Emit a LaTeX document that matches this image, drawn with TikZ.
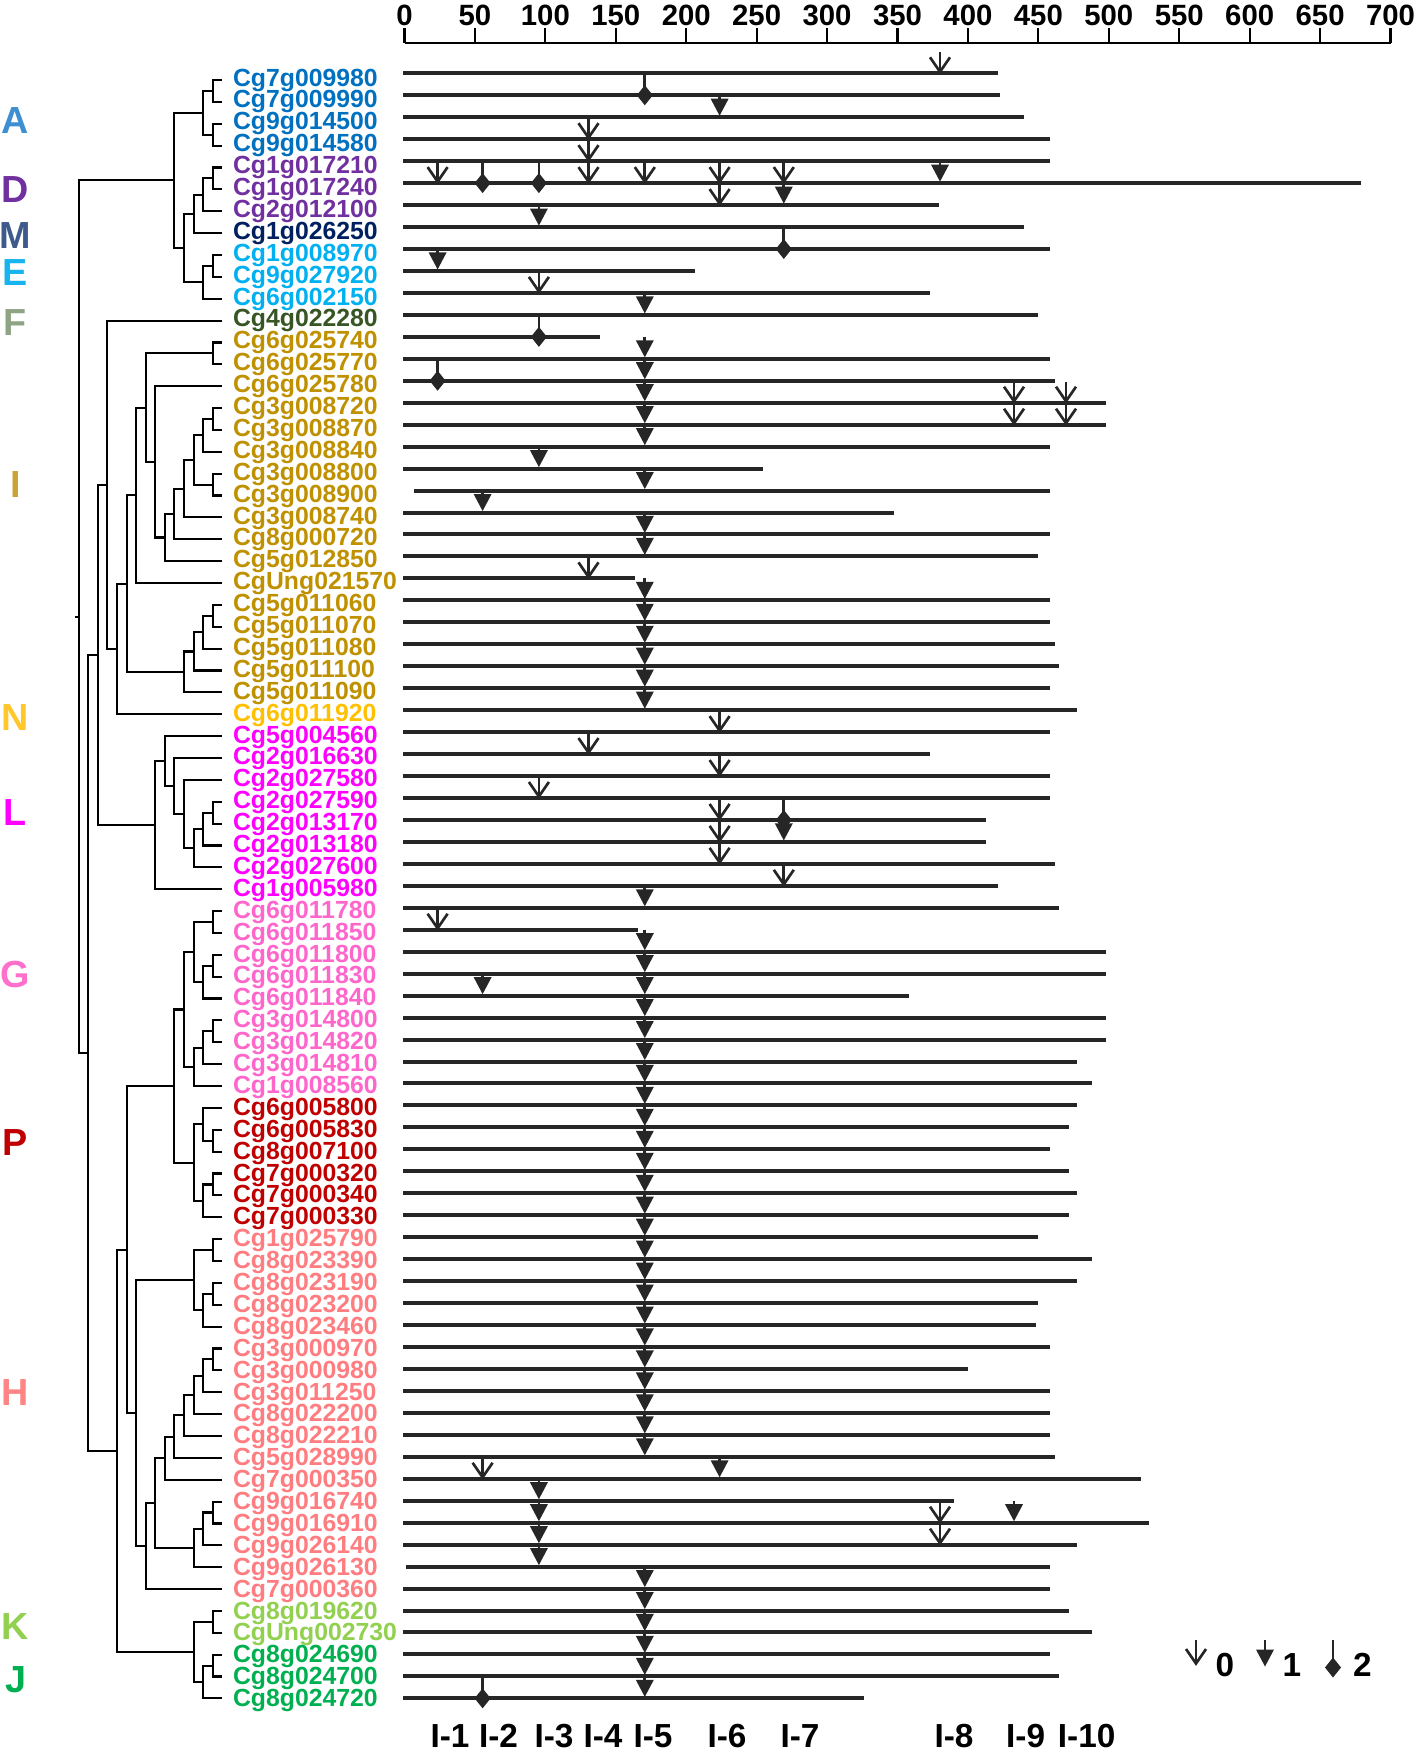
\documentclass[tikz,border=0pt]{standalone}
\usepackage{fontspec}
\setmainfont{Liberation Sans}

\tikzset{every picture/.style={line width=0.75pt}}

% label colours (gene names)
\definecolor{cA}{HTML}{0070C0}
\definecolor{cD}{HTML}{7030A0}
\definecolor{cM}{HTML}{002060}
\definecolor{cE}{HTML}{00B0F0}
\definecolor{cF}{HTML}{375623}
\definecolor{cI}{HTML}{BF9000}
\definecolor{cN}{HTML}{FFC000}
\definecolor{cL}{HTML}{FF00FF}
\definecolor{cG}{HTML}{FF66CC}
\definecolor{cP}{HTML}{C00000}
\definecolor{cH}{HTML}{FF7C80}
\definecolor{cK}{HTML}{92D050}
\definecolor{cJ}{HTML}{00B050}
% group letters
\definecolor{kA}{HTML}{3D8FD1}
\definecolor{kM}{HTML}{3E5A8C}
\definecolor{kE}{HTML}{18B4EF}
\definecolor{kF}{HTML}{8FA385}
\definecolor{kI}{HTML}{C9A234}
\definecolor{kN}{HTML}{FFC72C}
\definecolor{kG}{HTML}{FF70CC}
\definecolor{kH}{HTML}{FF8585}
\definecolor{mkc}{HTML}{262626}

% row positions: tree leaves, bars, label baselines
\newcommand{\yl}[1]{80+21.87*(#1)}
\newcommand{\yb}[1]{73.3+21.96*(#1)}
\newcommand{\yt}[1]{86+21.9*(#1)}
% x of the sites I-1 ... I-10
\def\sitex{{437.6,482.6,538.9,588.5,644.8,719.6,783.8,940,1014,1066}}

\tikzset{
  tree/.style={line width=1.6pt, line cap=rect},
  bar/.style={line width=3pt, draw=mkc},
  mk/.style={line width=2pt, draw=mkc},
  gene/.style={font=\fontsize{18.6}{20}\selectfont\bfseries, inner sep=0pt, anchor=base west},
  grp/.style={font=\fontsize{28.3}{30}\selectfont\bfseries, inner sep=0pt},
  num/.style={font=\fontsize{22}{24}\selectfont\bfseries, inner sep=0pt},
  site/.style={font=\fontsize{25}{27}\selectfont\bfseries, inner sep=0pt},
  axis/.style={line width=1.6pt},
  opn/.pic={\draw[mk] (0,21) -- (0,1.5); \draw[mk] (-10,16) -- (0,1.5) -- (10,16);},
  fil/.pic={\draw[mk] (0,22) -- (0,17); \fill[mkc] (-9,18.5) -- (9,18.5) -- (0,1.5) -- cycle;},
  dia/.pic={\draw[mk] (0,21) -- (0,8); \fill[mkc] (0,10) -- (8,0) -- (0,-10) -- (-8,0) -- cycle;},
}

% one clade: name, x, row, two children
\newcommand{\clade}[5]{\coordinate (#1) at (#2,{\yl{#3}});\draw[tree] (#4) -| (#1) |- (#5);}

\begin{document}
\begin{tikzpicture}[x=0.75pt,y=0.75pt,yscale=-1,xscale=1]
\useasboundingbox (0,0) rectangle (1418,1752);

%scale
\draw[axis] (404.5,42.7) -- (1390.5,42.7);
\foreach \k in {0,...,14}{
  \pgfmathtruncatemacro{\v}{50*\k}
  \draw[axis] ({404.5+70.43*\k},42.7) -- ({404.5+70.43*\k},28);
  \node[num] (ax\k) at ({404.5+70.43*\k},15.5) {\v};
}

%group letters
\node[grp, text=kA] (lA) at (15.5,120.5) {A};
\node[grp, text=cD] (lD) at (15.5,189.5) {D};
\node[grp, text=kM] (lM) at (15.5,236) {M};
\node[grp, text=kE] (lE) at (15.5,273) {E};
\node[grp, text=kF] (lF) at (15.5,323) {F};
\node[grp, text=kI] (lI) at (15.5,484.5) {I};
\node[grp, text=kN] (lN) at (15.5,718) {N};
\node[grp, text=cL] (lL) at (15.5,813) {L};
\node[grp, text=kG] (lG) at (15.5,974) {G};
\node[grp, text=cP] (lP) at (15.5,1143) {P};
\node[grp, text=kH] (lH) at (15.5,1393) {H};
\node[grp, text=cK] (lK) at (15.5,1626) {K};
\node[grp, text=cJ] (lJ) at (15.5,1680) {J};

%gene names
\foreach \i/\g/\c in {0/Cg7g009980/cA, 1/Cg7g009990/cA, 2/Cg9g014500/cA, 3/Cg9g014580/cA,
  4/Cg1g017210/cD, 5/Cg1g017240/cD, 6/Cg2g012100/cD, 7/Cg1g026250/cM,
  8/Cg1g008970/cE, 9/Cg9g027920/cE, 10/Cg6g002150/cE, 11/Cg4g022280/cF,
  12/Cg6g025740/cI, 13/Cg6g025770/cI, 14/Cg6g025780/cI, 15/Cg3g008720/cI,
  16/Cg3g008870/cI, 17/Cg3g008840/cI, 18/Cg3g008800/cI, 19/Cg3g008900/cI,
  20/Cg3g008740/cI, 21/Cg8g000720/cI, 22/Cg5g012850/cI, 23/CgUng021570/cI,
  24/Cg5g011060/cI, 25/Cg5g011070/cI, 26/Cg5g011080/cI, 27/Cg5g011100/cI,
  28/Cg5g011090/cI, 29/Cg6g011920/cN, 30/Cg5g004560/cL, 31/Cg2g016630/cL,
  32/Cg2g027580/cL, 33/Cg2g027590/cL, 34/Cg2g013170/cL, 35/Cg2g013180/cL,
  36/Cg2g027600/cL, 37/Cg1g005980/cL, 38/Cg6g011780/cG, 39/Cg6g011850/cG,
  40/Cg6g011800/cG, 41/Cg6g011830/cG, 42/Cg6g011840/cG, 43/Cg3g014800/cG,
  44/Cg3g014820/cG, 45/Cg3g014810/cG, 46/Cg1g008560/cG, 47/Cg6g005800/cP,
  48/Cg6g005830/cP, 49/Cg8g007100/cP, 50/Cg7g000320/cP, 51/Cg7g000340/cP,
  52/Cg7g000330/cP, 53/Cg1g025790/cH, 54/Cg8g023390/cH, 55/Cg8g023190/cH,
  56/Cg8g023200/cH, 57/Cg8g023460/cH, 58/Cg3g000970/cH, 59/Cg3g000980/cH,
  60/Cg3g011250/cH, 61/Cg8g022200/cH, 62/Cg8g022210/cH, 63/Cg5g028990/cH,
  64/Cg7g000350/cH, 65/Cg9g016740/cH, 66/Cg9g016910/cH, 67/Cg9g026140/cH,
  68/Cg9g026130/cH, 69/Cg7g000360/cH, 70/Cg8g019620/cK, 71/CgUng002730/cK,
  72/Cg8g024690/cJ, 73/Cg8g024700/cJ, 74/Cg8g024720/cJ}
  \node[gene, text=\c] (g\i) at (232.5,{\yt{\i}}) {\g};

%tree
\foreach \i in {0,...,74} \coordinate (t\i) at (221,{\yl{\i}});
\clade{n01}{212.7}{0.5}{t0}{t1}
\clade{n23}{212.7}{2.5}{t2}{t3}
\clade{nA}{203.3}{1.5}{n01}{n23}
\clade{n45}{212.7}{4.5}{t4}{t5}
\clade{n46}{203.3}{5.25}{n45}{t6}
\clade{n47}{194}{6.125}{n46}{t7}
\clade{n89}{212.7}{8.5}{t8}{t9}
\clade{n810}{203.3}{9.25}{n89}{t10}
\clade{n410}{184.3}{7.69}{n47}{n810}
\clade{n010}{174.3}{4.59}{nA}{n410}
\clade{n1213}{212.7}{12.5}{t12}{t13}
\clade{n1516}{212.7}{15.5}{t15}{t16}
\clade{n1517}{203.3}{16.25}{n1516}{t17}
\clade{n1819}{212.7}{18.5}{t18}{t19}
\clade{n1519}{194}{17.38}{n1517}{n1819}
\clade{n1520}{184.3}{18.69}{n1519}{t20}
\clade{n1521}{174.3}{19.84}{n1520}{t21}
\clade{n1522}{165}{20.92}{n1521}{t22}
\clade{n1422}{155.3}{17.46}{t14}{n1522}
\clade{n1222}{145.7}{14.98}{n1213}{n1422}
\clade{n1223}{136.3}{18.99}{n1222}{t23}
\clade{n2425}{212.7}{24.5}{t24}{t25}
\clade{n2426}{203.3}{25.25}{n2425}{t26}
\clade{n2427}{194}{26.13}{n2426}{t27}
\clade{n2428}{184.3}{27.06}{n2427}{t28}
\clade{n1228}{126.7}{23.03}{n1223}{n2428}
\clade{n1229}{117.3}{26.01}{n1228}{t29}
\clade{n1129}{107.3}{18.51}{t11}{n1229}
\clade{n3334}{212.7}{33.5}{t33}{t34}
\clade{n3335}{203.3}{34.25}{n3334}{t35}
\clade{n3336}{194}{35.13}{n3335}{t36}
\clade{n3236}{184.3}{33.56}{t32}{n3336}
\clade{n3136}{174.3}{32.28}{t31}{n3236}
\clade{n3036}{165}{31.14}{t30}{n3136}
\clade{n3037}{155.3}{34.07}{n3036}{t37}
\clade{n1137}{97.7}{26.29}{n1129}{n3037}
\clade{n3839}{212.7}{38.5}{t38}{t39}
\clade{n4041}{212.7}{40.5}{t40}{t41}
\clade{n4042}{203.3}{41.25}{n4041}{t42}
\clade{n3842}{194}{39.88}{n3839}{n4042}
\clade{n4344}{212.7}{43.5}{t43}{t44}
\clade{n4345}{203.3}{44.25}{n4344}{t45}
\clade{n4346}{194}{45.13}{n4345}{t46}
\clade{n3846}{184.3}{42.5}{n3842}{n4346}
\clade{n4849}{212.7}{48.5}{t48}{t49}
\clade{n4749}{203.3}{47.75}{t47}{n4849}
\clade{n5051}{212.7}{50.5}{t50}{t51}
\clade{n5052}{203.3}{51.25}{n5051}{t52}
\clade{n4752}{194}{49.5}{n4749}{n5052}
\clade{n3852}{174.3}{46}{n3846}{n4752}
\clade{n5354}{212.7}{53.5}{t53}{t54}
\clade{n5556}{212.7}{55.5}{t55}{t56}
\clade{n5557}{203.3}{56.25}{n5556}{t57}
\clade{n5357}{194}{54.88}{n5354}{n5557}
\clade{n5859}{212.7}{58.5}{t58}{t59}
\clade{n5860}{203.3}{59.25}{n5859}{t60}
\clade{n5861}{194}{60.13}{n5860}{t61}
\clade{n5862}{184.3}{61.06}{n5861}{t62}
\clade{n5863}{174.3}{62.03}{n5862}{t63}
\clade{n5864}{165}{63.02}{n5863}{t64}
\clade{n6566}{212.7}{65.5}{t65}{t66}
\clade{n6567}{203.3}{66.25}{n6566}{t67}
\clade{n6568}{194}{67.13}{n6567}{t68}
\clade{n5868}{155.3}{65.07}{n5864}{n6568}
\clade{n5869}{145.7}{67.04}{n5868}{t69}
\clade{n5369}{136.3}{60.96}{n5357}{n5869}
\clade{n3869}{126.7}{53.48}{n3852}{n5369}
\clade{n7071}{212.7}{70.5}{t70}{t71}
\clade{n7273}{212.7}{72.5}{t72}{t73}
\clade{n7274}{203.3}{73.25}{n7273}{t74}
\clade{n7074}{194}{71.88}{n7071}{n7274}
\clade{n3874}{116.7}{62.68}{n3869}{n7074}
\clade{n1174}{88.3}{44.49}{n1137}{n3874}
\clade{root}{79}{24.54}{n010}{n1174}
\draw[tree] (root) -- ++(-2.5,0);

%protein bars
\foreach \i/\b/\e in {0/403/998, 1/403/1000, 2/403/1024, 3/403/1050, 4/403/1050, 5/403/1361,
  6/403/939, 7/403/1024, 8/403/1050, 9/403/695, 10/403/930, 11/403/1038, 12/403/600,
  13/403/1050, 14/403/1055, 15/403/1106, 16/403/1106, 17/403/1050, 18/403/763,
  19/414/1050, 20/403/894, 21/403/1050, 22/403/1038, 23/403/635, 24/403/1050,
  25/403/1050, 26/403/1055, 27/403/1059, 28/403/1050, 29/403/1077, 30/403/1050,
  31/403/930, 32/403/1050, 33/403/1050, 34/403/986, 35/403/986, 36/403/1055,
  37/403/998, 38/403/1059, 39/403/638, 40/403/1106, 41/403/1106, 42/403/909,
  43/403/1106, 44/403/1106, 45/403/1077, 46/403/1092, 47/403/1077, 48/403/1069,
  49/403/1050, 50/403/1069, 51/403/1077, 52/403/1069, 53/403/1038, 54/403/1092,
  55/403/1077, 56/403/1038, 57/403/1036, 58/403/1050, 59/403/968, 60/403/1050,
  61/403/1050, 62/403/1050, 63/403/1055, 64/403/1141, 65/403/954, 66/403/1149,
  67/403/1077, 68/406/1050, 69/403/1050, 70/403/1069, 71/403/1092, 72/403/1050,
  73/403/1059, 74/403/864}
  \draw[bar] (\b,{\yb{\i}}) -- (\e,{\yb{\i}});

%introns: phase 0
\foreach \r/\s in {0/8, 3/4, 4/4, 5/1, 5/4, 5/5, 5/6, 5/7, 6/6, 10/3, 15/9, 15/10, 16/9, 16/10,
  23/4, 30/6, 31/4, 32/6, 33/3, 34/6, 35/6, 36/6, 37/7, 39/1, 64/2, 66/8, 67/8}{
  \pgfmathsetmacro{\mx}{\sitex[\s-1]}
  \pic at (\mx,{\yb{\r}}) {opn};
}
%phase 1
\foreach \r/\s in {2/6, 5/8, 6/7, 7/3, 9/1, 18/3, 20/2, 35/7, 42/2, 64/6, 65/3, 66/3, 66/9, 67/3, 68/3}{
  \pgfmathsetmacro{\mx}{\sitex[\s-1]}
  \pic at (\mx,{\yb{\r}}) {fil};
}
\foreach \r in {11,13,14,15,16,17,19,21,22,24,25,26,27,28,29,38,40,41,42,43,44,45,46,47,48,
  49,50,51,52,53,54,55,56,57,58,59,60,61,62,63,69,70,71,72,73,74}
  \pic at (644.8,{\yb{\r}}) {fil};
%phase 2
\foreach \r/\s in {1/5, 5/2, 5/3, 8/7, 12/3, 14/1, 34/7, 74/2}{
  \pgfmathsetmacro{\mx}{\sitex[\s-1]}
  \pic at (\mx,{\yb{\r}}) {dia};
}

%site names
\foreach \n/\x in {1/450, 2/498.5, 3/554, 4/603, 5/653, 6/727, 7/800, 8/954, 9/1025.6, 10/1086.6}
  \node[site] (i\n) at (\x,1736) {I-\n};

%legend
\draw[mk] (1196,1640) -- (1196,1646);
\pic at (1196,1665) {opn};
\node[site] (k0) at (1225,1665) {0};
\draw[mk] (1265,1640) -- (1265,1648);
\pic at (1265,1668) {fil};
\node[site] (k1) at (1292,1665) {1};
\draw[mk] (1333,1640) -- (1333,1650);
\pic at (1333,1667.5) {dia};
\node[site] (k2) at (1362.5,1665) {2};

\end{tikzpicture}
\end{document}
